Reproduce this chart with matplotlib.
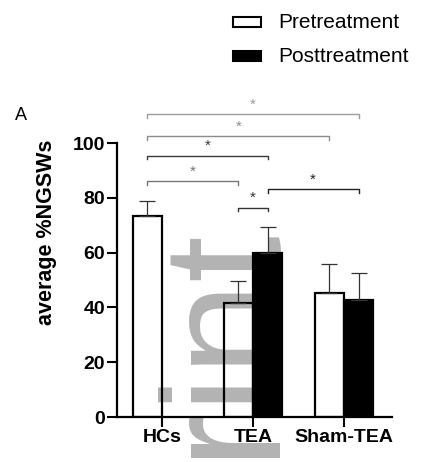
import numpy as np
import matplotlib
matplotlib.use('Agg')
import matplotlib.pyplot as plt
from matplotlib.patches import Rectangle

plt.rcParams['font.family'] = ['Liberation Sans', 'DejaVu Sans']

groups = ['HCs', 'TEA', 'Sham-TEA']
series = ['Pretreatment', 'Posttreatment']
pre_mean = [73.5, 41.7, 45.2]
pre_err = [5.2, 7.8, 10.6]
post_mean = [np.nan, 59.7, 42.8]
post_err = [np.nan, 9.6, 9.6]

# significance brackets: (group, series) -> (group, series), height
brackets = [
    ((0, 0), (2, 1), 110.5),
    ((0, 0), (2, 0), 102.6),
    ((0, 0), (1, 1), 95.4),
    ((0, 0), (1, 0), 86.1),
    ((1, 0), (1, 1), 76.4),
    ((1, 1), (2, 1), 83.1),
]
br_colors = ['#9c9c9c', '#8c8c8c', '#3a3a3a', '#777777', '#333333', '#222222']

fig = plt.figure(figsize=(4.22, 4.62), dpi=100)
ax = fig.add_axes([117/422, 45/462, 275/422, 274/462])

x = np.arange(len(groups))
w = 0.32
off = [-0.16, 0.16]

ax.bar(x + off[0], pre_mean, w, facecolor='none', edgecolor='black', lw=1.6, zorder=2)
ax.bar(x + off[1], post_mean, w, facecolor='black', edgecolor='black', lw=1.6, zorder=2)
ax.errorbar(x + off[0], pre_mean, yerr=[np.zeros(3), pre_err], fmt='none',
            ecolor='#333333', elinewidth=0.9, capsize=5.5, capthick=0.9, zorder=3)
ax.errorbar(x + off[1], post_mean, yerr=[np.zeros(3), post_err], fmt='none',
            ecolor='#333333', elinewidth=0.9, capsize=5.5, capthick=0.9, zorder=3)

# watermark
ax.text(267/422, (462-221)/462, 'Preprint', transform=fig.transFigure, rotation=90,
        rotation_mode='anchor', ha='right', va='baseline', fontsize=121,
        color='#b3b3b3', zorder=1, clip_on=False)

for (a, b, h), c in zip(brackets, br_colors):
    x1 = a[0] + off[a[1]]
    x2 = b[0] + off[b[1]]
    ax.plot([x1, x1, x2, x2], [h - 1.4, h, h, h - 1.4], color=c, lw=1.0,
            clip_on=False, zorder=3)
    ax.annotate('*', ((x1 + x2) / 2, h), xytext=(0, 4), textcoords='offset points',
                ha='center', va='baseline', fontsize=11, color=c, annotation_clip=False)

ax.set_xlim(-0.495, 2.527)
ax.set_ylim(0, 100)
ax.set_yticks([0, 20, 40, 60, 80, 100])
ax.set_xticks(x)
ax.set_xticklabels(groups, fontweight='bold', fontsize=14)
for t in ax.get_yticklabels():
    t.set_fontweight('bold')
    t.set_fontsize(14)
ax.tick_params(axis='both', width=1.5, length=7, pad=1.5)
for s in ['top', 'right']:
    ax.spines[s].set_visible(False)
for s in ['left', 'bottom']:
    ax.spines[s].set_linewidth(1.6)

ax.set_ylabel('average %NGSWs', fontweight='bold', fontsize=15.5)
ax.yaxis.set_label_coords(-0.218, 0.675)

fig.text(15/422, 1 - 116/462, 'A', fontsize=13, va='center', ha='left')

# legend
for i, (lab, fc) in enumerate(zip(series, ['white', 'black'])):
    yc = 22 + i * 34
    fig.add_artist(Rectangle((233/422, 1 - (yc + 5)/462), 28/422, 10/462,
                             transform=fig.transFigure, facecolor=fc,
                             edgecolor='black', lw=1.5))
    fig.text(278/422, 1 - yc/462, lab, fontsize=15, va='center', ha='left')

fig.savefig('out.png', dpi=100)
